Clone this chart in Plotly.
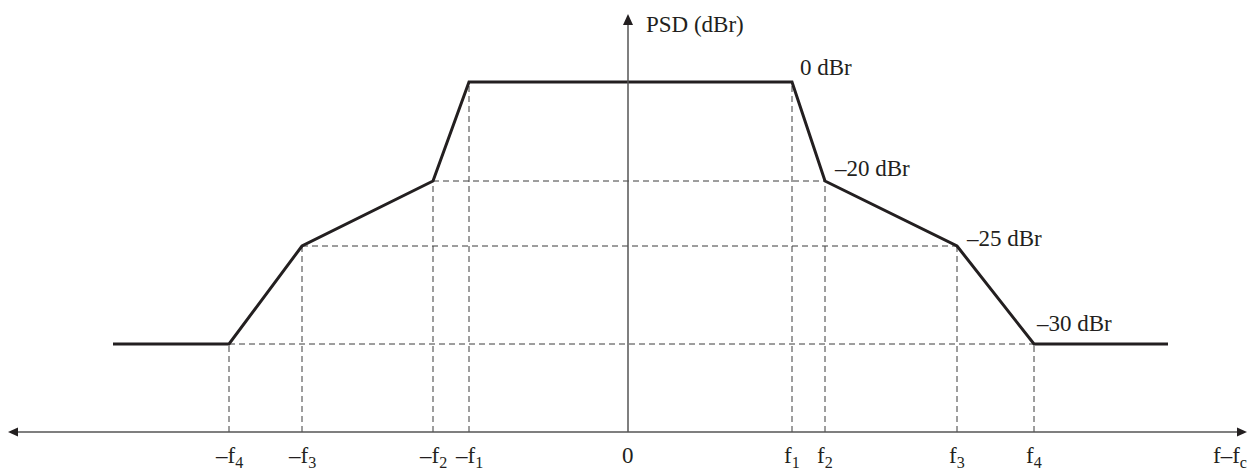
import plotly.graph_objects as go

# Schematic spectral mask (positions are schematic units: offset from centre / height above axis)
freq_labels = ["–f<sub>4</sub>", "–f<sub>3</sub>", "–f<sub>2</sub>", "–f<sub>1</sub>", "0",
               "f<sub>1</sub>", "f<sub>2</sub>", "f<sub>3</sub>", "f<sub>4</sub>"]
freq_pos = [-399, -326, -195, -159, 0, 164, 197, 329, 406]

level_labels = ["0 dBr", "–20 dBr", "–25 dBr", "–30 dBr"]
level_pos = [350, 251, 186, 88]

mask_x = [-515, -399, -326, -195, -159, 164, 197, 329, 406, 540]
mask_y = [88, 88, 186, 251, 350, 350, 251, 186, 88, 88]

INK = "#231f20"
AXIS = "#555555"
DASH = "#3c3c3c"
FONT = "Liberation Serif, Times New Roman, serif"
FS = 23

fig = go.Figure()

# dashed guide lines: vertical from each breakpoint down to the axis
for x, y in zip(mask_x[1:-1], mask_y[1:-1]):
    fig.add_trace(go.Scatter(x=[x, x], y=[0, y], mode="lines",
                             line=dict(color=DASH, width=1, dash="6px,4px"),
                             hoverinfo="skip", showlegend=False))
# horizontal dashed lines at -20, -25, -30 between symmetric breakpoints
for lx, rx, y in [(mask_x[3], mask_x[6], mask_y[3]),
                  (mask_x[2], mask_x[7], mask_y[2]),
                  (mask_x[1], mask_x[8], mask_y[1])]:
    fig.add_trace(go.Scatter(x=[lx, rx], y=[y, y], mode="lines",
                             line=dict(color=DASH, width=1, dash="6px,4px"),
                             hoverinfo="skip", showlegend=False))

# axes
fig.add_shape(type="line", x0=-612, x1=610, y0=0, y1=0, line=dict(color=AXIS, width=1.5))
fig.add_shape(type="line", x0=0, x1=0, y0=0, y1=410, line=dict(color=AXIS, width=1.5))
# arrowheads
fig.add_shape(type="path", path="M -620,0 L -610,4.5 L -610,-4.5 Z", fillcolor=INK, line=dict(width=0))
fig.add_shape(type="path", path="M 619,0 L 609,4.5 L 609,-4.5 Z", fillcolor=INK, line=dict(width=0))
fig.add_shape(type="path", path="M 0,418 L -5,407 L 5,407 Z", fillcolor=INK, line=dict(width=0))

# mask
fig.add_trace(go.Scatter(x=mask_x, y=mask_y, mode="lines",
                         line=dict(color=INK, width=3), hoverinfo="skip", showlegend=False))

ann = []
for lab, x in zip(freq_labels, freq_pos):
    ann.append(dict(x=x, y=-9, text=lab, showarrow=False, xanchor="center", yanchor="top",
                    font=dict(family=FONT, size=FS, color=INK)))
ann.append(dict(x=621, y=-9, text="f–f<sub>c</sub>", showarrow=False, xanchor="right", yanchor="top",
                font=dict(family=FONT, size=FS, color=INK)))
lab_xy = [(170, 365), (204, 264), (336, 194), (406, 109)]
for lab, (x, y) in zip(level_labels, lab_xy):
    ann.append(dict(x=x, y=y, text=lab, showarrow=False, xanchor="left", yanchor="middle",
                    font=dict(family=FONT, size=FS, color=INK)))
ann.append(dict(x=16, y=408, text="PSD (dBr)", showarrow=False, xanchor="left", yanchor="middle",
                font=dict(family=FONT, size=FS, color=INK)))

fig.update_layout(
    width=1253, height=471, autosize=False,
    margin=dict(l=0, r=0, t=0, b=0),
    paper_bgcolor="white", plot_bgcolor="white",
    xaxis=dict(range=[-628, 625], visible=False, fixedrange=True),
    yaxis=dict(range=[-39, 432], visible=False, fixedrange=True),
    annotations=ann, showlegend=False,
)

fig.write_html("out.html", config={"displayModeBar": False},
               post_script="document.body.style.margin='0px';document.body.style.overflow='hidden';")
